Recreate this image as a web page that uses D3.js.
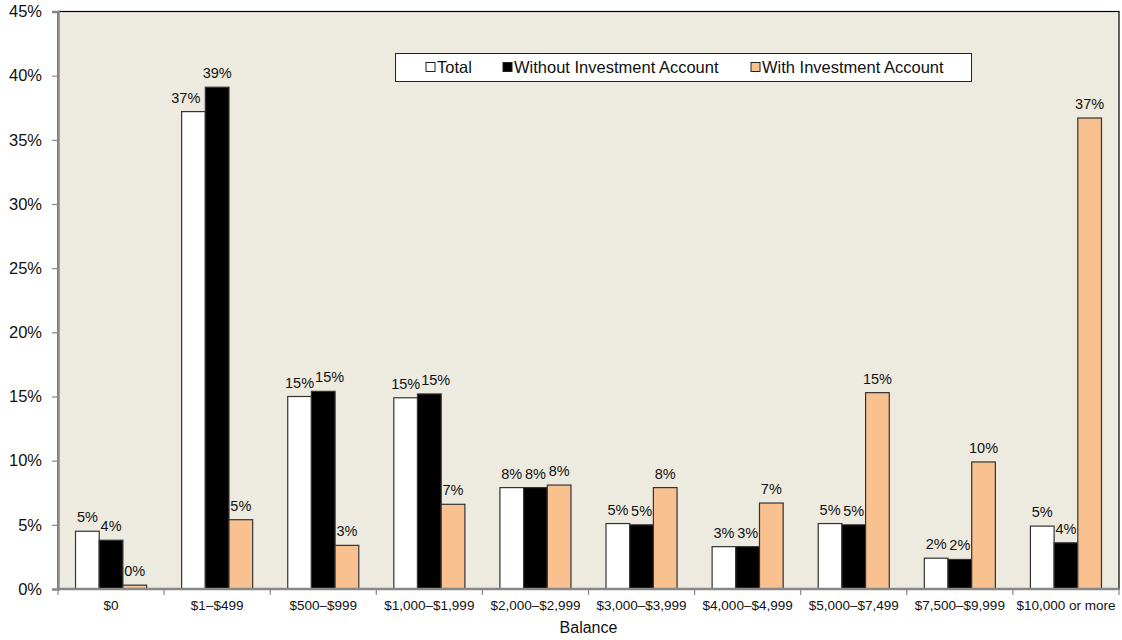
<!DOCTYPE html>
<html>
<head>
<meta charset="utf-8">
<script src="https://cdn.jsdelivr.net/npm/d3@7"></script>
<style>
  body { margin: 0; background: #fff; }
  svg { display: block; font-family: "Liberation Sans", Arial, sans-serif; }
</style>
</head>
<body>
<svg id="chart" width="1122" height="640"></svg>
<script>
// Balance brackets along the x axis
const categories = ["$0", "$1–$499", "$500–$999", "$1,000–$1,999", "$2,000–$2,999",
  "$3,000–$3,999", "$4,000–$4,999", "$5,000–$7,499", "$7,500–$9,999", "$10,000 or more"];

// Share of accounts in each bracket (percent)
const totalValues   = [4.5, 37.2, 15.0, 14.9, 7.9, 5.1, 3.3, 5.1, 2.4, 4.9];
const withoutValues = [3.8, 39.1, 15.4, 15.2, 7.9, 5.0, 3.3, 5.0, 2.3, 3.6];
const withValues    = [0.3, 5.4, 3.4, 6.6, 8.1, 7.9, 6.7, 15.3, 9.9, 36.7];

const seriesNames = ["Total", "Without Investment Account", "With Investment Account"];
const seriesColors = ["#ffffff", "#000000", "#f9c18f"];
const yTicks = [0, 5, 10, 15, 20, 25, 30, 35, 40, 45];

const series = [totalValues, withoutValues, withValues];

const svg = d3.select("#chart");
const margin = { left: 58, right: 1119, top: 11.5, bottom: 589 };

const x = d3.scaleBand().domain(categories).range([margin.left, margin.right]).paddingInner(0).paddingOuter(0);
const inner = d3.scaleBand().domain(d3.range(series.length)).range([0, x.bandwidth()]).paddingOuter(0.74).paddingInner(0);
const y = d3.scaleLinear().domain([0, 45]).range([margin.bottom, margin.top]);

// plot background and frame
svg.append("rect")
  .attr("x", margin.left).attr("y", margin.top)
  .attr("width", margin.right - margin.left).attr("height", margin.bottom - margin.top)
  .attr("fill", "#edeae0").attr("stroke", "#000").attr("stroke-width", 1.2);

// bars
series.forEach((vals, si) => {
  svg.append("g").selectAll("rect").data(vals).join("rect")
    .attr("x", (d, i) => x(categories[i]) + inner(si))
    .attr("y", d => y(d))
    .attr("width", inner.bandwidth())
    .attr("height", d => y(0) - y(d))
    .attr("fill", seriesColors[si])
    .attr("stroke", "#333")
    .attr("stroke-width", 1.2);
});

// value labels, nudged sideways where they would collide with a neighbour
const labelLayer = svg.append("g");
const labelSize = 14.5;
categories.forEach((cat, i) => {
  const items = series.map((vals, si) => {
    const cx = x(cat) + inner(si) + inner.bandwidth() / 2;
    const t = labelLayer.append("text")
      .attr("y", y(vals[i]) - 9)
      .attr("text-anchor", "middle")
      .attr("font-size", labelSize)
      .attr("fill", "#111")
      .text(Math.round(vals[i]) + "%");
    const w = t.node().getComputedTextLength();
    return { t, cx, w, base: y(vals[i]) - 9, barLeft: x(cat) + inner(si), barTop: y(vals[i]) };
  });
  for (let k = 0; k < items.length - 1; k++) {
    const a = items[k], b = items[k + 1];
    const aRight = a.cx + a.w / 2;
    if (b.barTop < a.base && aRight > b.barLeft) {
      // the next bar rises past this label: move the label left of it
      a.cx -= aRight - (b.barLeft - 5);
    } else if (Math.abs(a.base - b.base) < labelSize && aRight > b.cx - b.w / 2) {
      // two labels at about the same height: move the right one over
      b.cx = aRight + 1 + b.w / 2;
    }
  }
  items.forEach(it => it.t.attr("x", it.cx));
});

// y axis
const yAxis = d3.axisLeft(y).tickValues(yTicks).tickFormat(d => d + "%").tickSize(6).tickPadding(10);
const gy = svg.append("g").attr("transform", `translate(${margin.left},0)`).call(yAxis);
gy.select(".domain").attr("stroke", "#888").attr("stroke-width", 2.5);
gy.selectAll(".tick line").attr("stroke", "#888").attr("stroke-width", 1.2);
gy.selectAll(".tick text").attr("font-size", 16.5).attr("fill", "#111").attr("font-family", "Liberation Sans, Arial, sans-serif");

// x axis: ticks at category boundaries
const gx = svg.append("g").attr("transform", `translate(0,${margin.bottom})`);
gx.append("line").attr("x1", margin.left).attr("x2", margin.right)
  .attr("stroke", "#888").attr("stroke-width", 2.5);
const bounds = categories.map(c => x(c)).concat([x(categories[categories.length - 1]) + x.bandwidth()]);
gx.selectAll("line.tk").data(bounds).join("line").attr("class", "tk")
  .attr("x1", d => d).attr("x2", d => d).attr("y1", 0).attr("y2", 6)
  .attr("stroke", "#888").attr("stroke-width", 1.2);
gx.selectAll("text").data(categories).join("text")
  .attr("x", d => x(d) + x.bandwidth() / 2)
  .attr("y", 21)
  .attr("text-anchor", "middle")
  .attr("font-size", 13.5)
  .attr("fill", "#111")
  .text(d => d);

svg.append("text").attr("x", (margin.left + margin.right) / 2).attr("y", 633)
  .attr("text-anchor", "middle").attr("font-size", 16).attr("fill", "#111").text("Balance");

// legend
const lg = svg.append("g");
lg.append("rect").attr("x", 395.5).attr("y", 53.5).attr("width", 576).attr("height", 28)
  .attr("fill", "#fff").attr("stroke", "#222").attr("stroke-width", 1);
const legendX = [426, 503, 751];
seriesNames.forEach((name, i) => {
  lg.append("rect").attr("x", legendX[i]).attr("y", 62.5).attr("width", 9).attr("height", 9)
    .attr("fill", seriesColors[i]).attr("stroke", "#222").attr("stroke-width", 1);
  lg.append("text").attr("x", legendX[i] + 11).attr("y", 73)
    .attr("font-size", 16.5).attr("fill", "#111").text(name);
});
</script>
</body>
</html>
